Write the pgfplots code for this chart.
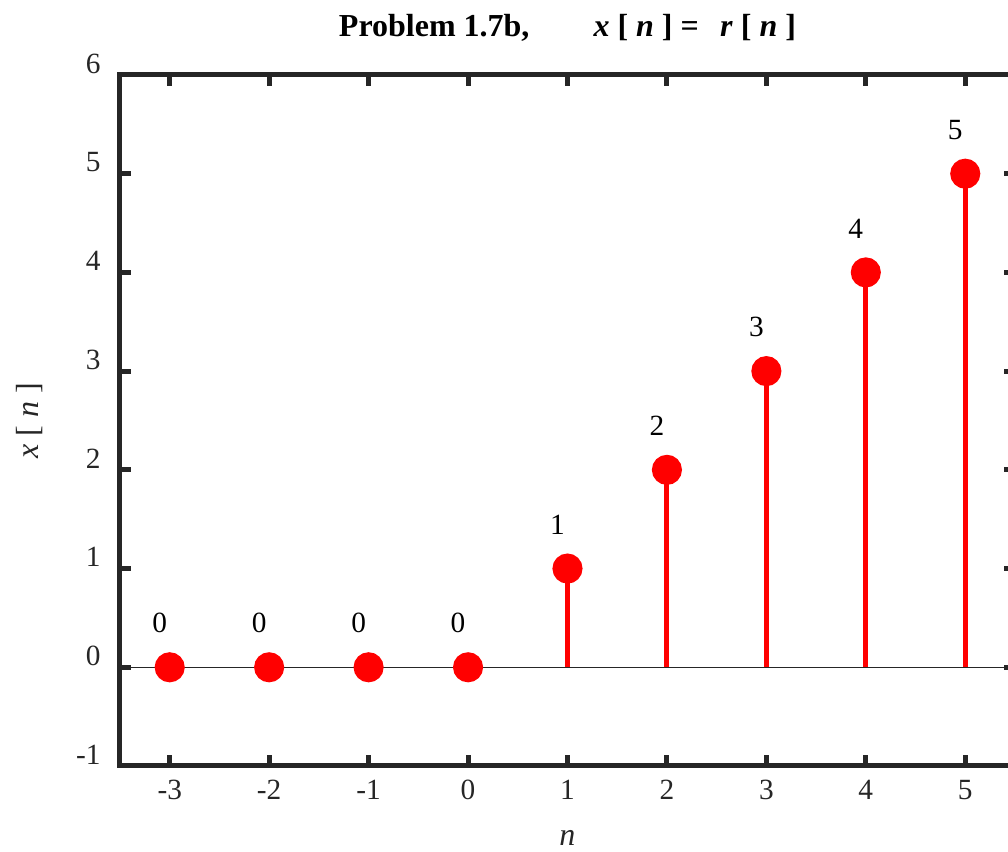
\documentclass[border=0pt]{standalone}
\usepackage{pgfplots}
\pgfplotsset{compat=1.18}
\usepackage{fontspec}
\setmainfont{Liberation Serif}
\definecolor{axgray}{HTML}{262626}

\begin{document}
\begin{tikzpicture}
\begin{axis}[
    scale only axis,
    width=671.25pt, height=518.25pt,
    xmin=-3.5, xmax=5.5, ymin=-1, ymax=6,
    xtick={-3,...,5}, ytick={-1,...,6},
    xticklabels={-3,-2,-1,0,1,2,3,4,5},
    yticklabels={-1,0,1,2,3,4,5,6},
    /pgf/number format/assume math mode=true,
    tick align=inside,
    major tick length=8pt,
    axis line style={line width=3.75pt, axgray},
    every tick/.style={line width=3.75pt, axgray},
    ticklabel style={font=\fontsize{22}{26}\selectfont, text=axgray},
    xticklabel style={yshift=-7pt},
    yticklabel style={xshift=-11pt, yshift=8.5pt},
    title={Problem 1.7b,\hspace{48pt}\textit{x} [ \textit{n} ] =\hspace{16pt}\textit{r} [ \textit{n} ]},
    title style={at={(0.5,1.057)}, anchor=center, font=\fontsize{24}{28}\selectfont\bfseries},
    xlabel={\textit{n}},
    xlabel style={at={(0.5,-0.104)}, anchor=center, font=\fontsize{24}{28}\selectfont, text=axgray},
    ylabel={\textit{x} [ \textit{n} ]},
    ylabel style={at={(-0.101,0.5)}, anchor=center, font=\fontsize{24}{28}\selectfont, text=axgray},
]
% zero line
\addplot[axgray, line width=1pt, forget plot] coordinates {(-3.5,0) (5.5,0)};
% r[n] stems
\addplot[ycomb, red, line width=3.75pt,
    mark=*, mark size=9.4pt, mark options={fill=red, draw=none},
    nodes near coords,
    every node near coord/.append style={anchor=center, xshift=-7.5pt, yshift=33pt,
        font=\fontsize{22}{26}\selectfont, text=black}]
    coordinates {(-3,0) (-2,0) (-1,0) (0,0) (1,1) (2,2) (3,3) (4,4) (5,5)};
\coordinate (SW) at (rel axis cs:0,0);
\end{axis}
\pgfresetboundingbox
\path[use as bounding box] ([shift={(-90pt,-64.5pt)}]SW) rectangle ([shift={(666pt,574.5pt)}]SW);
\end{tikzpicture}
\end{document}
